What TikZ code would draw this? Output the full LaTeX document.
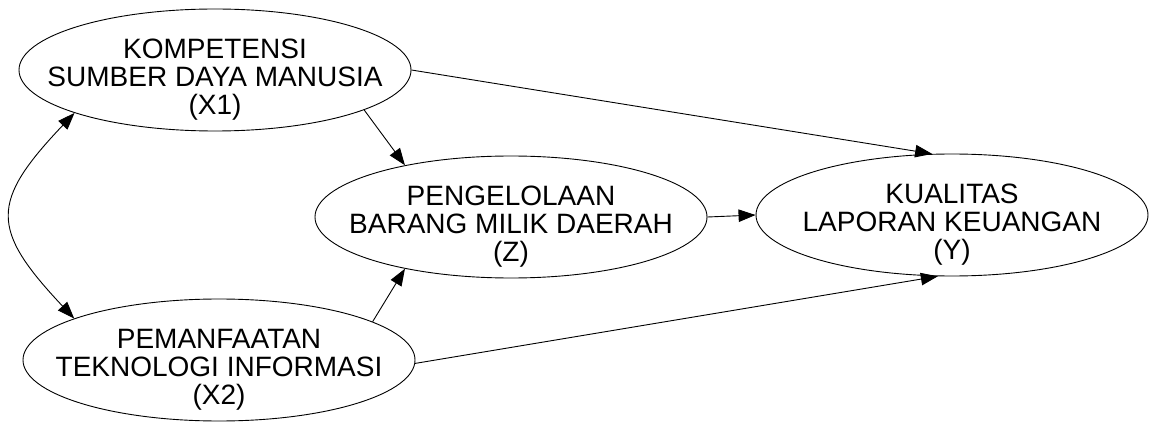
\documentclass[tikz,border=0pt]{standalone}
\usepackage{fontspec}
\setmainfont{Liberation Sans}
\usetikzlibrary{arrows.meta,shapes.geometric}
\begin{document}
\begin{tikzpicture}[x=1pt,y=-1pt,
  ell/.style={draw, ellipse, line width=0.9pt, minimum width=392pt, minimum height=122pt, inner sep=0pt},
  lbl/.style={align=center, font=\fontsize{28}{28}\selectfont, inner sep=0pt},
  arr/.style={line width=0.9pt, -{Triangle[length=17pt,width=12.5pt]}},
  biarr/.style={line width=0.9pt, {Triangle[length=17pt,width=12.5pt]}-{Triangle[length=17pt,width=12.5pt]}},
]
\useasboundingbox (0,0) rectangle (1149,422);
\node[ell] (X1) at (215,70) {};
\node[ell] (X2) at (219,360) {};
\node[ell] (Z) at (511,217) {};
\node[ell] (Y) at (952,215) {};
\node[lbl] (X1t) at ([yshift=-9.5pt]X1.center) {KOMPETENSI\\SUMBER DAYA MANUSIA\\(X1)};
\node[lbl] (X2t) at ([yshift=-9.5pt]X2.center) {PEMANFAATAN\\TEKNOLOGI INFORMASI\\(X2)};
\node[lbl] (Zt) at ([yshift=-9.5pt]Z.center) {PENGELOLAAN\\BARANG MILIK DAERAH\\(Z)};
\node[lbl] (Yt) at ([yshift=-9.5pt]Y.center) {KUALITAS\\LAPORAN KEUANGAN\\(Y)};
\draw[arr] (X1.east) -- (Y.108);
\draw[arr] (X1.-15) -- (Z.154);
\draw[arr] (X2.14) -- (Z.206);
\draw[arr] (X2.-1) -- (Y.257);
\draw[arr] (Z.east) -- (Y.west);
\draw[biarr] (X1.197) .. controls (-10,202) and (-10,229) .. (X2.164);
\end{tikzpicture}
\end{document}
